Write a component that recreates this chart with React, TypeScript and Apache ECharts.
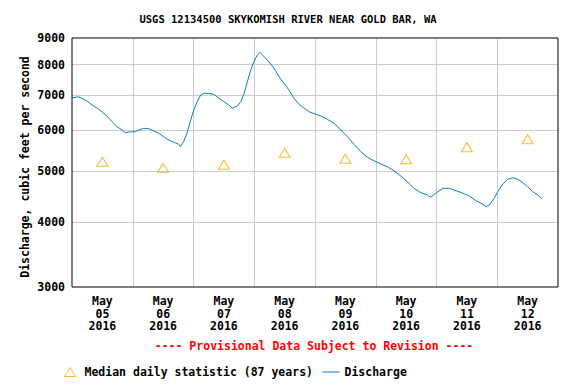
import React, { useEffect, useRef } from 'react';
import * as echarts from 'echarts';

const TITLE = 'USGS 12134500 SKYKOMISH RIVER NEAR GOLD BAR, WA';
const NOTE = '---- Provisional Data Subject to Revision ----';
const Y_NAME = 'Discharge, cubic feet per second';
const MEDIAN_NAME = 'Median daily statistic (87 years)';
const LINE_NAME = 'Discharge';

const DAY_LABELS = [
  'May\n05\n2016', 'May\n06\n2016', 'May\n07\n2016', 'May\n08\n2016',
  'May\n09\n2016', 'May\n10\n2016', 'May\n11\n2016', 'May\n12\n2016',
];
const Y_TICKS = [3000, 4000, 5000, 6000, 7000, 8000, 9000];

// hours since 2016-05-05 00:00
const HOURS = [
  0, 2.6, 5.9, 7.9, 9.9, 11.9, 13.8, 15.8, 17.8, 19.8,
  21.1, 23.0, 25.0, 26.4, 28.3, 30.3, 32.3, 34.3, 36.2, 38.2,
  40.2, 42.2, 42.8, 44.1, 45.4, 46.7, 48.1, 49.5, 50.8, 52.2,
  54.1, 56.1, 58.1, 60.0, 62.0, 63.3, 65.3, 66.7, 68.0, 69.3,
  70.6, 71.9, 73.2, 74.2, 75.9, 77.8, 79.8, 81.8, 83.8, 85.7,
  87.7, 89.7, 91.7, 93.6, 96.3, 98.3, 100.9, 103.5, 106.2, 108.8,
  111.4, 114.1, 116.7, 119.3, 122.0, 124.6, 127.2, 129.9, 132.5, 135.1,
  137.8, 140.4, 141.7, 143.7, 146.5, 149.1, 151.7, 154.4, 157.0, 159.6,
  162.3, 163.6, 164.9, 166.8, 168.2, 170.2, 172.1, 174.1, 176.1, 178.1,
  180.0, 182.0, 184.0, 185.7,
];
const DISCHARGE = [
  6907, 6946, 6816, 6697, 6609, 6493, 6379, 6221, 6085, 5997,
  5926, 5952, 5952, 5997, 6043, 6032, 5979, 5910, 5822, 5738,
  5681, 5631, 5571, 5696, 5910, 6221, 6551, 6795, 6998, 7051,
  7051, 7020, 6898, 6795, 6697, 6600, 6667, 6795, 7051, 7421,
  7815, 8106, 8350, 8450, 8287, 8106, 7874, 7587, 7369, 7155,
  6898, 6718, 6600, 6502, 6428, 6379, 6287, 6178, 5997, 5822,
  5631, 5450, 5317, 5237, 5162, 5100, 5011, 4896, 4774, 4637,
  4548, 4502, 4457, 4536, 4637, 4637, 4589, 4536, 4482, 4390,
  4321, 4276, 4308, 4437, 4568, 4726, 4825, 4859, 4825, 4753,
  4670, 4568, 4502, 4423,
];
const MEDIAN_HOURS = [12, 36, 60, 84, 108, 132, 156, 180];
const MEDIAN = [5215, 5078, 5146, 5426, 5284, 5270, 5557, 5756];

const FONT = '"DejaVu Sans Mono", monospace';
const LINE_COLOR = '#0a7bd0';
const TRI_COLOR = '#ffa500';
const GRID_COLOR = '#cccccc';

export default function App() {
  const ref = useRef<HTMLDivElement>(null);

  useEffect(() => {
    if (!ref.current) return;
    const chart = echarts.init(ref.current, null, { renderer: 'svg' });
    const txt = { fontFamily: FONT, fontSize: 11.5, fontWeight: 'bold' as const, color: '#000' };

    chart.setOption({
      animation: false,
      title: {
        text: TITLE,
        left: 'center',
        top: 13,
        padding: 0,
        textStyle: { fontFamily: FONT, fontSize: 10.5, fontWeight: 'bold', color: '#000', lineHeight: 12 },
      },
      grid: {
        left: 72, top: 38, right: 18, bottom: 97,
        show: true, borderColor: '#000', borderWidth: 1, backgroundColor: 'transparent', z: 10,
      },
      xAxis: [
        {
          type: 'value', min: 0, max: 192, interval: 24, position: 'bottom',
          axisLine: { show: false }, axisTick: { show: false }, axisLabel: { show: false },
          splitLine: { show: true, showMinLine: false, showMaxLine: false, lineStyle: { color: GRID_COLOR, width: 1 } },
        },
        {
          type: 'category', data: DAY_LABELS, boundaryGap: true, position: 'bottom',
          axisLine: { show: false }, axisTick: { show: false }, splitLine: { show: false },
          axisLabel: { ...txt, interval: 0, margin: 8, lineHeight: 12.5 },
        },
      ],
      yAxis: {
        type: 'log', logBase: 10, min: 3000, max: 9000,
        name: Y_NAME, nameLocation: 'middle', nameGap: 41,
        nameTextStyle: { ...txt, padding: [0, 9, 0, 0] },
        axisLine: { show: false }, axisTick: { show: false }, axisLabel: { show: false },
        splitLine: { show: false },
      },
      legend: [
        {
          data: [MEDIAN_NAME], left: 64, top: 366, padding: 0,
          itemWidth: 11, itemHeight: 9, selectedMode: false,
          itemStyle: { borderWidth: 1 },
          textStyle: { ...txt, padding: [0, 0, 0, 4] },
        },
        {
          data: [LINE_NAME], left: 322, top: 366, padding: 0,
          itemWidth: 17, itemHeight: 9, selectedMode: false,
          lineStyle: { width: 1 },
          itemStyle: { opacity: 0 },
          textStyle: { ...txt },
        },
      ],
      graphic: [
        {
          type: 'text', x: 314, y: 346,
          style: {
            text: NOTE, fill: '#ff0000', font: `bold 11.5px ${FONT}`,
            textAlign: 'center', textVerticalAlign: 'middle',
          },
        },
      ],
      series: [
        {
          name: LINE_NAME,
          type: 'line',
          xAxisIndex: 0,
          data: HOURS.map((h, i) => [h, DISCHARGE[i]]),
          showSymbol: false,
          symbol: 'none',
          lineStyle: { color: LINE_COLOR, width: 1 },
          itemStyle: { color: LINE_COLOR },
          z: 3,
          markLine: {
            silent: true,
            z: 1,
            symbol: ['none', 'none'],
            lineStyle: { color: GRID_COLOR, width: 1, type: 'solid' },
            label: {
              position: 'start', distance: 7, ...txt,
              formatter: (p: any) => String(p.value),
            },
            emphasis: { disabled: true },
            data: Y_TICKS.map((v) => (
              v === 3000 || v === 9000
                ? { yAxis: v, lineStyle: { color: 'rgba(0,0,0,0)' } }
                : { yAxis: v }
            )),
          },
        },
        {
          name: MEDIAN_NAME,
          type: 'scatter',
          xAxisIndex: 0,
          data: MEDIAN_HOURS.map((h, i) => [h, MEDIAN[i]]),
          symbol: 'triangle',
          symbolSize: [11, 9],
          itemStyle: { color: 'rgba(255,255,255,0)', borderColor: TRI_COLOR, borderWidth: 1 },
          z: 4,
        },
      ],
    });

    return () => chart.dispose();
  }, []);

  return (
    <div
      ref={ref}
      style={{ position: 'fixed', left: 0, top: 0, width: 576, height: 384, background: '#fff' }}
    />
  );
}
